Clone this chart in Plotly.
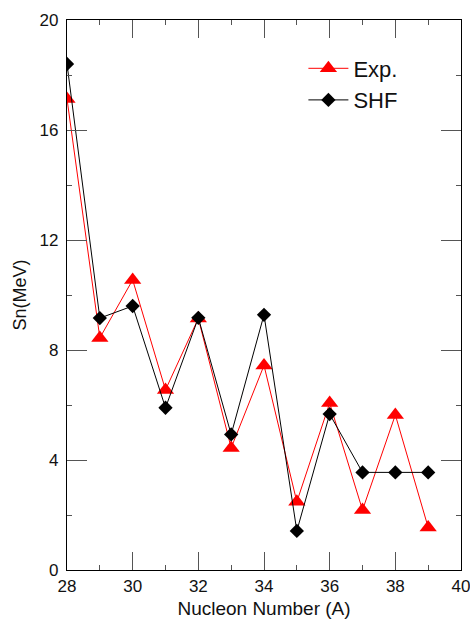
import plotly.graph_objects as go

# Neutron separation energies vs. nucleon number
nucleon_a = [28, 29, 30, 31, 32, 33, 34, 35, 36, 37, 38, 39]
sn_exp = [17.13, 8.44, 10.55, 6.55, 9.15, 4.44, 7.44, 2.48, 6.07, 2.18, 5.64, 1.55]
sn_shf = [18.4, 9.16, 9.6, 5.9, 9.17, 4.93, 9.28, 1.42, 5.67, 3.55, 3.55, 3.55]

FONT = "Liberation Sans, Arial, sans-serif"

fig = go.Figure()
fig.add_trace(go.Scatter(
    x=nucleon_a, y=sn_exp, name="Exp.", mode="lines+markers",
    line=dict(color="#ff0000", width=1),
    marker=dict(symbol="triangle-up", size=15, color="#ff0000"),
))
fig.add_trace(go.Scatter(
    x=nucleon_a, y=sn_shf, name="SHF", mode="lines+markers",
    line=dict(color="#000000", width=1),
    marker=dict(symbol="diamond", size=11, color="#000000"),
))

axis_common = dict(
    showline=True, linecolor="#000000", linewidth=1.3, mirror="ticks",
    ticks="inside", tickcolor="#555555", tickwidth=1.3,
    showgrid=False, zeroline=False, automargin=False,
    ticklabeloverflow="allow",
    tickfont=dict(family=FONT, size=17, color="#111111"),
)

fig.update_xaxes(
    range=[28, 40], dtick=2, tick0=28, ticklen=18,
    minor=dict(dtick=1, ticklen=5, ticks="inside", tickcolor="#555555", tickwidth=1.3),
    title=dict(text="Nucleon Number (A)", font=dict(family=FONT, size=19, color="#111111"), standoff=9),
    **axis_common,
)
fig.update_yaxes(
    range=[0, 20], dtick=4, tick0=0, ticklen=20,
    minor=dict(dtick=2, ticklen=5, ticks="inside", tickcolor="#555555", tickwidth=1.3),
    ticklabelstandoff=4,
    title=dict(text="Sn(MeV)", font=dict(family=FONT, size=18, color="#111111"), standoff=8),
    **axis_common,
)

fig.update_layout(
    width=470, height=619,
    margin=dict(l=67, r=9, t=20, b=49),
    paper_bgcolor="#ffffff", plot_bgcolor="#ffffff",
    showlegend=True,
    legend=dict(
        x=0.6, y=0.95, xanchor="left", yanchor="top",
        bgcolor="rgba(0,0,0,0)", borderwidth=0,
        font=dict(family=FONT, size=22, color="#111111"),
        itemwidth=40, tracegroupgap=0,
    ),
)

fig.write_html("out.html")
